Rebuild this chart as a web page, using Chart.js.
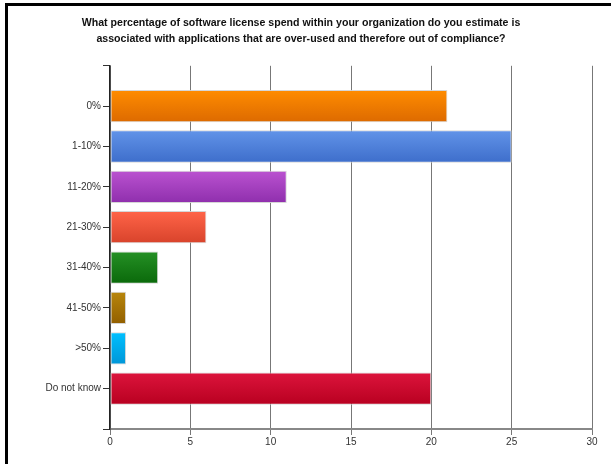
<!DOCTYPE html>
<html lang="en">
<head>
    <meta charset="UTF-8">
    <title>Over-used license spend</title>
    <script src="https://cdn.jsdelivr.net/npm/chart.js"></script>
    <style>
        html, body { margin: 0; padding: 0; background: #fff; }
        #wrap { position: relative; width: 611px; height: 464px; }
        #frame {
            position: absolute; left: 5px; top: 3px; right: 0; bottom: 0;
            border-left: 3px solid #000; border-top: 3px solid #000;
            pointer-events: none;
        }
    </style>
</head>
<body>
    <div id="wrap">
        <canvas id="spendChart" width="611" height="464"></canvas>
        <div id="frame"></div>
    </div>

    <script>
        const categories = ['0%', '1-10%', '11-20%', '21-30%', '31-40%', '41-50%', '>50%', 'Do not know'];
        const responses = [21, 25, 11, 6, 3, 1, 1, 20];
        const xTicks = [0, 5, 10, 15, 20, 25, 30];

        // top / bottom colour of each bar's gradient
        const topColors = ['#ff8c00', '#6193e8', '#ba52d0', '#ff6448', '#259025', '#b8860b', '#00c0ff', '#dc143c'];
        const bottomColors = ['#dd6a00', '#3e6ecb', '#8f2fad', '#d8432b', '#0a690a', '#925f00', '#0096d8', '#b80020'];

        // empty slot above and below the categories, like the original axis
        const labels = [''].concat(categories, ['']);
        const values = [null].concat(responses, [null]);

        function barFill(context) {
            const i = context.dataIndex - 1;
            const chart = context.chart;
            const yScale = chart.scales.y;
            if (i < 0 || i >= categories.length) return '#ccc';
            if (!chart.chartArea || !yScale) return topColors[i];
            const yc = yScale.getPixelForValue(context.dataIndex);
            const g = chart.ctx.createLinearGradient(0, yc - 16, 0, yc + 16);
            g.addColorStop(0, topColors[i]);
            g.addColorStop(1, bottomColors[i]);
            return g;
        }

        new Chart(document.getElementById('spendChart'), {
            type: 'bar',
            data: {
                labels: labels,
                datasets: [{
                    data: values,
                    backgroundColor: barFill,
                    borderColor: 'rgba(210,210,210,0.9)',
                    borderWidth: 1,
                    borderSkipped: false,
                    barPercentage: 0.8,
                    categoryPercentage: 1
                }]
            },
            options: {
                indexAxis: 'y',
                responsive: false,
                animation: false,
                layout: { padding: { left: 10, right: 19, top: 0, bottom: 0 } },
                plugins: {
                    legend: { display: false },
                    tooltip: { enabled: false },
                    title: {
                        display: true,
                        text: [
                            'What percentage of software license spend within your organization do you estimate is',
                            'associated with applications that are over-used and therefore out of compliance?'
                        ],
                        color: '#111',
                        font: { family: '"Liberation Sans", Arial, sans-serif', size: 10.6, weight: 'bold', lineHeight: 1.5 },
                        padding: { top: 15, bottom: 19 }
                    }
                },
                scales: {
                    x: {
                        min: 0,
                        max: 30,
                        afterFit: s => { s.height = 35; },
                        afterBuildTicks: s => { s.ticks = xTicks.map(v => ({ value: v })); },
                        grid: { color: '#777', lineWidth: 1, tickLength: 6 },
                        border: { color: '#888', width: 2 },
                        ticks: {
                            color: '#333',
                            padding: 1,
                            font: { family: '"Liberation Sans", Arial, sans-serif', size: 10 }
                        }
                    },
                    y: {
                        offset: false,
                        afterFit: s => { s.width = 100; },
                        grid: { drawOnChartArea: false, offset: false, color: '#333', tickLength: 7 },
                        border: { color: '#222', width: 1.5 },
                        ticks: {
                            color: '#333',
                            padding: 2,
                            autoSkip: false,
                            font: { family: '"Liberation Sans", Arial, sans-serif', size: 10 }
                        }
                    }
                }
            }
        });
    </script>
</body>
</html>
